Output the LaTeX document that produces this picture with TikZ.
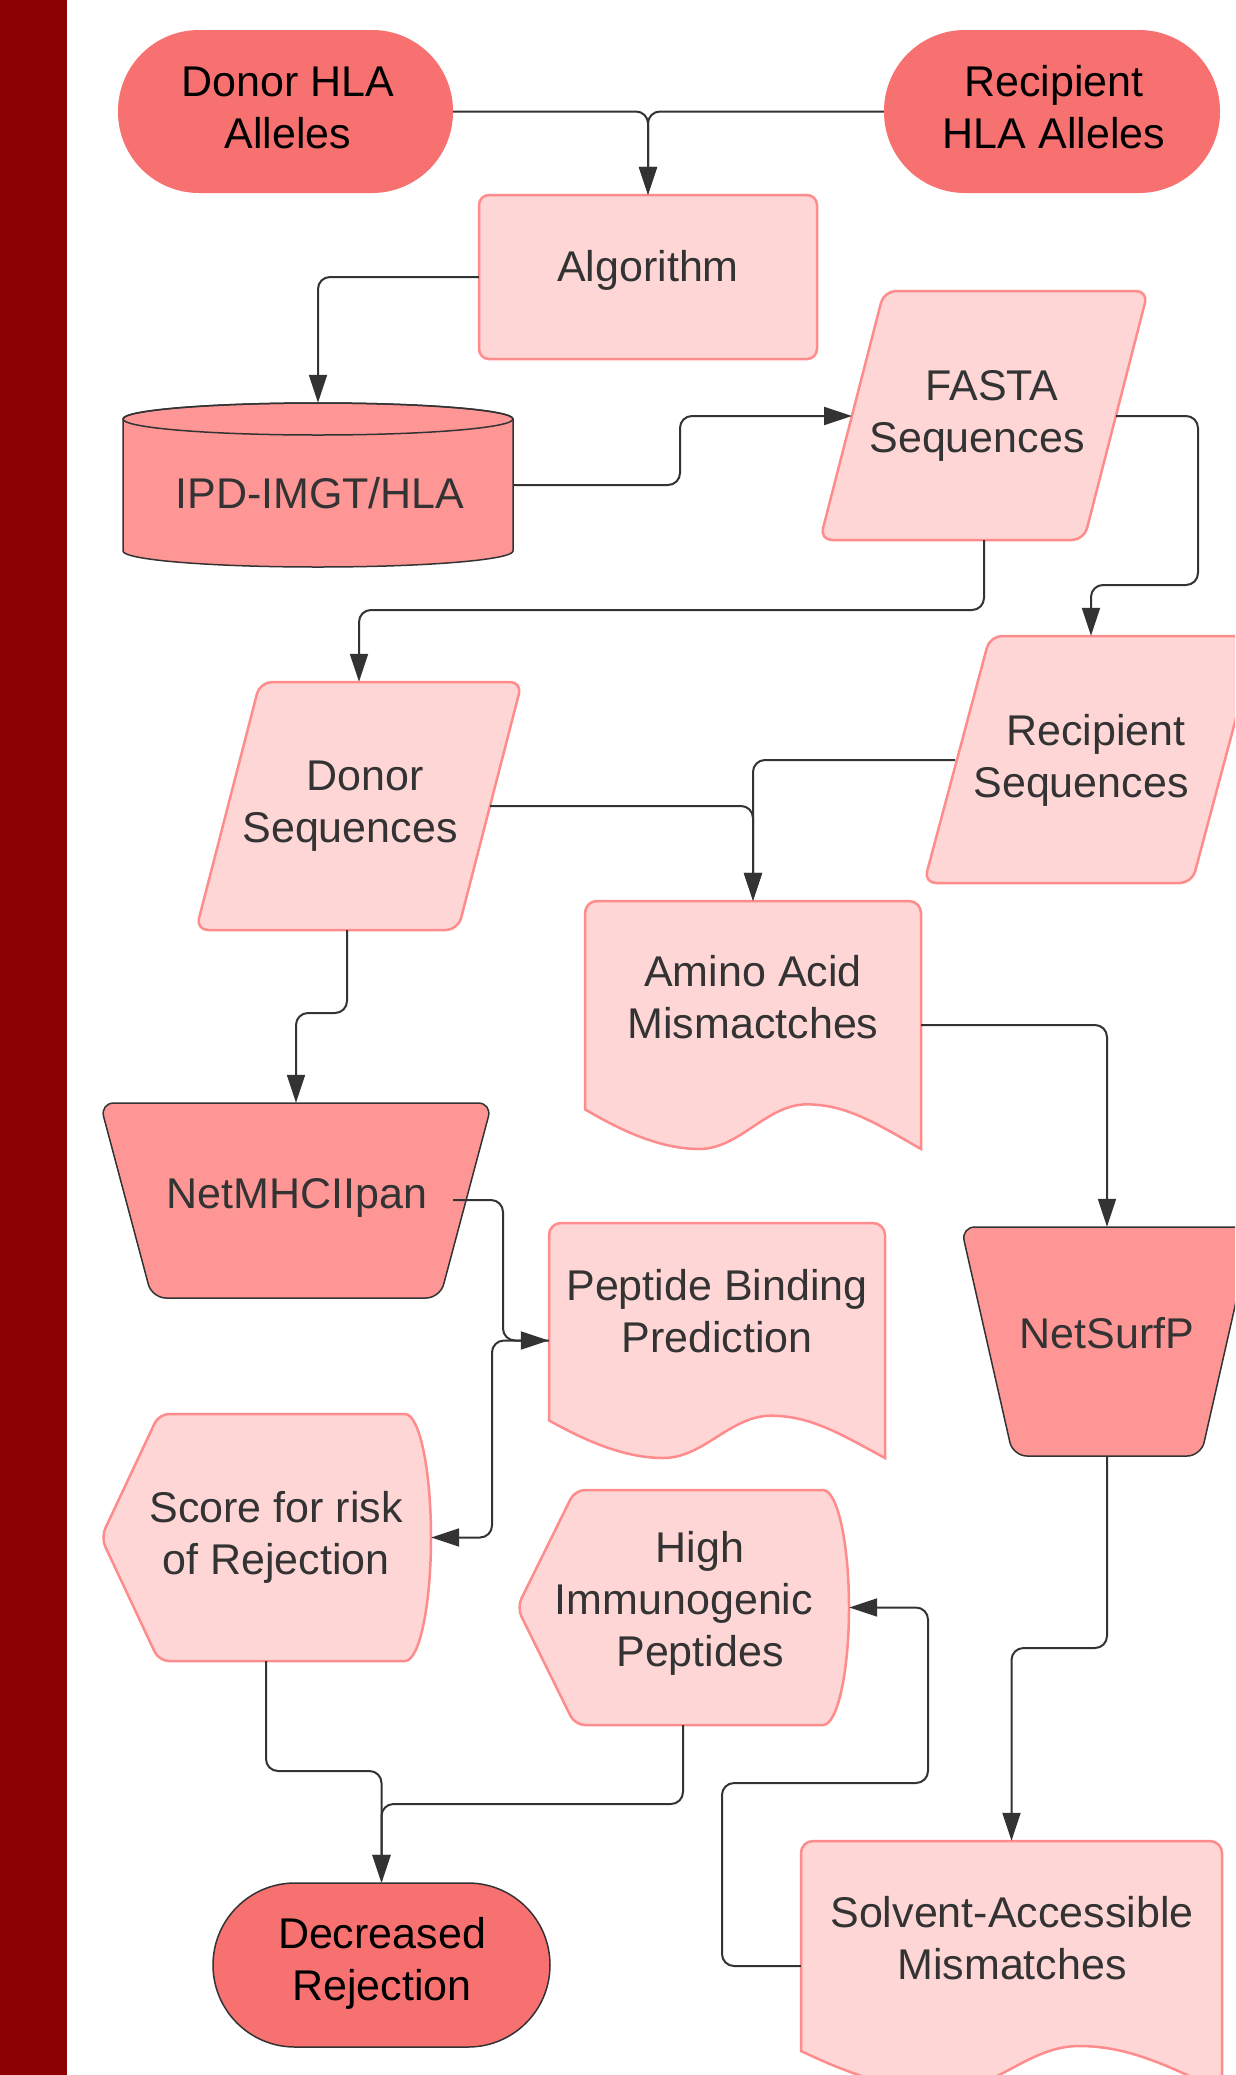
\documentclass[tikz,border=0pt]{standalone}
\usepackage{fontspec}
\setmainfont{Liberation Sans}
\usetikzlibrary{arrows.meta,calc}
\definecolor{bandc}{HTML}{8B0000}
\definecolor{termc}{HTML}{F87171}
\definecolor{medc}{HTML}{FF9696}
\definecolor{lightc}{HTML}{FFD6D6}
\definecolor{lightb}{HTML}{FF8C8C}
\definecolor{linec}{HTML}{333333}
\newcommand\docshape[4]{%
 \filldraw[light] (#1,{#2+0.84*#4}) [rounded corners=12pt] -- (#1,#2) -- ({#1+#3},#2) [sharp corners] -- ({#1+#3},{#2+#4})
  .. controls ({#1+0.87*#3},{#2+0.9*#4}) and ({#1+0.78*#3},{#2+0.82*#4}) .. ({#1+0.66*#3},{#2+0.82*#4})
  .. controls ({#1+0.54*#3},{#2+0.82*#4}) and ({#1+0.46*#3},{#2+#4}) .. ({#1+0.34*#3},{#2+#4})
  .. controls ({#1+0.22*#3},{#2+#4}) and ({#1+0.1*#3},{#2+0.92*#4}) .. (#1,{#2+0.84*#4}) -- cycle;}
\newcommand\dispshape[4]{%
 \filldraw[light] ({#1+58},#2) [sharp corners] -- ({#1+#3-26},#2)
  arc[start angle=-90,end angle=90,x radius=26,y radius={0.5*#4}]
  [rounded corners=10pt] -- ({#1+58},{#2+#4}) -- (#1,{#2+0.5*#4}) -- cycle;}
\tikzset{
 bb/.style={draw=none,inner sep=0pt,rectangle},
 light/.style={fill=lightc,draw=lightb,line width=2.5pt},
 med/.style={fill=medc,draw=linec,line width=1.5pt},
 term/.style={fill=termc},
 txt/.style={font=\fontsize{43pt}{52pt}\selectfont,align=center,inner sep=0pt,anchor=north,text=linec},
 ttxt/.style={txt,text=black},
 conn/.style={draw=linec,line width=2pt,rounded corners=12pt,-{Triangle[length=28pt,width=18pt]}},
}
\begin{document}
\begin{tikzpicture}[x=1pt,y=-1pt]
\useasboundingbox (0,0) rectangle (1235,2075);
\clip (0,0) rectangle (1235,2075);
\fill[white] (0,0) rectangle (1235,2075);
\fill[bandc] (0,0) rectangle (67,2075);

% bounding nodes
\node[bb,minimum width=335pt,minimum height=163pt] (dha) at (285.5,111.5) {};
\node[bb,minimum width=336pt,minimum height=163pt] (rha) at (1052,111.5) {};
\node[bb,minimum width=338pt,minimum height=164pt] (alg) at (648,277) {};
\node[bb,minimum width=390pt,minimum height=164pt] (ipd) at (318,485) {};
\node[bb,minimum width=328pt,minimum height=249pt] (fasta) at (984,415.5) {};
\node[bb,minimum width=326pt,minimum height=248pt] (dseq) at (359,806) {};
\node[bb,minimum width=334pt,minimum height=247pt] (rseq) at (1091,759.5) {};
\node[bb,minimum width=336pt,minimum height=248pt] (amino) at (753,1025) {};
\node[bb,minimum width=392pt,minimum height=195pt] (netmhc) at (296,1200.5) {};
\node[bb,minimum width=336pt,minimum height=235pt] (pep) at (717,1340.5) {};
\node[bb,minimum width=292pt,minimum height=229pt] (netsurf) at (1107,1341.5) {};
\node[bb,minimum width=330pt,minimum height=247pt] (score) at (266,1537.5) {};
\node[bb,minimum width=332pt,minimum height=235pt] (hi) at (683,1607.5) {};
\node[bb,minimum width=337pt,minimum height=164pt] (dec) at (381.5,1965) {};
\node[bb,minimum width=421pt,minimum height=250pt] (solv) at (1011.5,1966) {};

% shapes
\fill[term,rounded corners=81pt] (118,30) rectangle (453,193);
\fill[term,rounded corners=81pt] (884,30) rectangle (1220,193);
\filldraw[light,rounded corners=10pt] (479,195) rectangle (817,359);
\filldraw[med] (123,419) -- (123,551) arc[start angle=180,end angle=0,x radius=195,y radius=16]
  -- (513,419) arc[start angle=0,end angle=-180,x radius=195,y radius=16] -- cycle;
\draw[med,fill=none] (318,419) ellipse[x radius=195,y radius=16];
\filldraw[light,rounded corners=12pt] (884,291) -- (1148,291) -- (1084,540) -- (820,540) -- cycle;
\filldraw[light,rounded corners=12pt] (260,682) -- (522,682) -- (458,930) -- (196,930) -- cycle;
\filldraw[light,rounded corners=12pt] (990,636) -- (1258,636) -- (1192,883) -- (924,883) -- cycle;
\docshape{585}{901}{336}{248}
\filldraw[med,rounded corners=14pt] (100,1103) -- (492,1103) -- (440,1298) -- (152,1298) -- cycle;
\docshape{549}{1223}{336}{235}
\filldraw[med,rounded corners=14pt] (961,1227) -- (1253,1227) -- (1201,1456) -- (1013,1456) -- cycle;
\dispshape{101}{1414}{330}{247}
\dispshape{517}{1490}{332}{235}
\filldraw[term,draw=linec,line width=1.5pt,rounded corners=82pt] (213,1883) rectangle (550,2047);
\docshape{801}{1841}{421}{250}

% connector end points
\coordinate (fastaL) at (852,416);
\coordinate (fastaR) at (1116,416);
\coordinate (dseqR) at (490,806);
\coordinate (dseqB) at (347,930);
\coordinate (rseqL) at (955,760);
\coordinate (netmhcR) at (453,1200);

% connectors
\draw[conn] (dha.east) -| (alg.north);
\draw[conn] (rha.west) -| (alg.north);
\draw[conn] (alg.west) -| (ipd.north);
\draw[conn] (ipd.east) -| (680,416) -- (fastaL);
\draw[conn] (fasta.south) -- (984,610) -| (dseq.north);
\draw[conn] (fastaR) -| (1198,585) -| (rseq.north);
\draw[conn] (dseqR) -| (amino.north);
\draw[conn] (rseqL) -| (amino.north);
\draw[conn] (dseqB) -- (347,1013) -| (netmhc.north);
\draw[conn] (amino.east) -| (netsurf.north);
\draw[conn] (netmhcR) -| (503,1340.5) -- (pep.west);
\draw[conn] (pep.west) -| (492,1537.5) -- (score.east);
\draw[conn] (netsurf.south) -- (1107,1648) -| (solv.north);
\draw[conn] (solv.west) -| (722,1783) -| (928,1607.5) -- (hi.east);
\draw[conn] (score.south) -- (266,1771) -| (dec.north);
\draw[conn] (hi.south) -- (683,1804) -| (dec.north);

% texts
\node[ttxt] (dha-t) at (288,59.6) {\strut Donor HLA\\\strut Alleles};
\node[ttxt] (rha-t) at (1054,59.6) {\strut Recipient\\\strut HLA Alleles};
\node[txt] (alg-t) at (648,244.6) {\strut Algorithm};
\node[txt] (ipd-t) at (320,471.6) {\strut IPD-IMGT/HLA};
\node[txt] (fasta-t) at (977,363.6) {\strut\hspace*{30pt}FASTA\\\strut Sequences};
\node[txt] (dseq-t) at (350,753.6) {\strut\hspace*{30pt}Donor\\\strut Sequences};
\node[txt] (rseq-t) at (1081,708.6) {\strut\hspace*{30pt}Recipient\\\strut Sequences};
\node[txt] (amino-t) at (753,949.6) {\strut Amino Acid\\\strut Mismactches};
\node[txt] (netmhc-t) at (297,1171.6) {\strut NetMHCIIpan};
\node[txt] (pep-t) at (717,1263.6) {\strut Peptide Binding\\\strut Prediction};
\node[txt] (netsurf-t) at (1107,1311.6) {\strut NetSurfP};
\node[txt] (score-t) at (276,1485.6) {\strut Score for risk\\\strut of Rejection};
\node[txt] (hi-t) at (700,1525.6) {\strut High\\\hspace*{-32pt}Immunogenic\\\strut Peptides};
\node[ttxt] (dec-t) at (382,1911.6) {\strut Decreased\\\strut Rejection};
\node[txt] (solv-t) at (1012,1890.6) {\strut Solvent-Accessible\\\strut Mismatches};
\end{tikzpicture}
\end{document}
